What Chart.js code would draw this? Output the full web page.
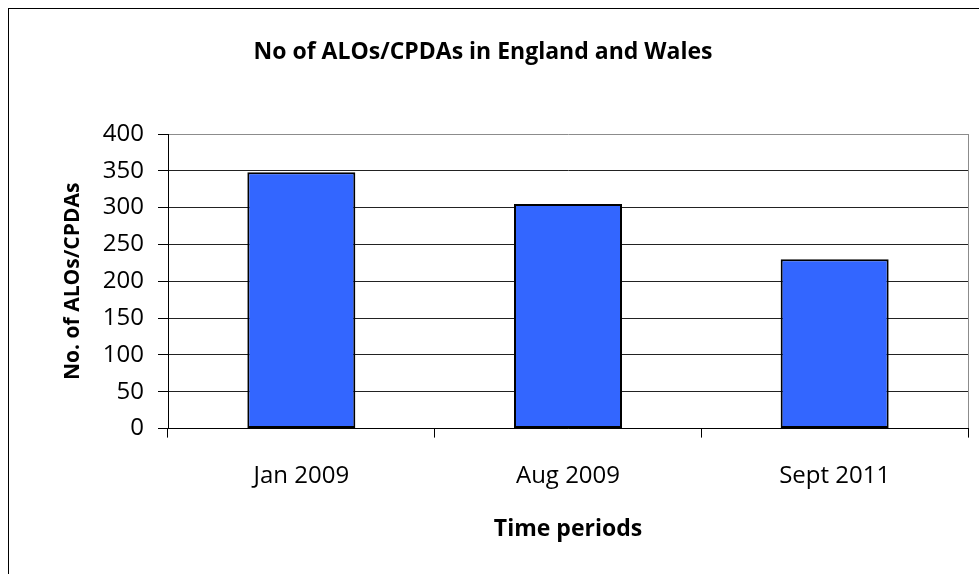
<!DOCTYPE html>
<html>
<head>
<meta charset="utf-8">
<script src="https://cdn.jsdelivr.net/npm/chart.js@4.4.1/dist/chart.umd.min.js"></script>
<style>
  body { margin: 0; background: #fff; }
  #wrap { position: absolute; left: 0; top: 0; width: 979px; height: 574px; }
  #frame { position: absolute; left: 8px; top: 8px; width: 2000px; height: 2000px; border: 1px solid #000; }
</style>
</head>
<body>
<div id="frame"></div>
<div id="wrap"><canvas id="myChart" width="979" height="574"></canvas></div>
<script>
// chart data
let periods = ['Jan 2009', 'Aug 2009', 'Sept 2011']
let counts = [348, 305, 230]
let yTicks = [0, 50, 100, 150, 200, 250, 300, 350, 400]
let chartTitle = 'No of ALOs/CPDAs in England and Wales'

let fontName = "'Open Sans', 'Liberation Sans', sans-serif"

// title sits over the whole picture, not over the plot area
let titlePlugin = {
    id: 'pageTitle',
    afterDraw: function(chart) {
        let c = chart.ctx
        c.save()
        c.font = 'bold 23px ' + fontName
        c.fillStyle = '#000'
        c.textAlign = 'center'
        c.textBaseline = 'middle'
        c.fillText(chartTitle, 483, 52)
        c.restore()
    }
}

var ctx = document.getElementById('myChart').getContext('2d');
var mychart = new Chart(ctx, {
    type: 'bar',
    data: {
        labels: periods,
        datasets: [{
            label: 'No. of ALOs/CPDAs',
            backgroundColor: '#3366FF',
            borderColor: '#000000',
            borderWidth: 2,
            borderSkipped: false,
            data: counts,
            barPercentage: 0.405,
            categoryPercentage: 1
        }]
    },
    plugins: [titlePlugin],
    options: {
        responsive: false,
        animation: false,
        layout: { padding: { left: 60, right: 11, top: 134, bottom: 0 } },
        plugins: {
            legend: { display: false },
            tooltip: { enabled: false },
            title: { display: false }
        },
        scales: {
            x: {
                grid: {
                    offset: true,
                    drawOnChartArea: true,
                    // only the right edge of the plot gets a line
                    color: function(c) { return c.type === 'scale' ? '#8c8c8c' : 'rgba(0,0,0,0)' },
                    tickColor: '#000',
                    tickLength: 9,
                    lineWidth: 1
                },
                border: { color: '#000', width: 1 },
                ticks: { color: '#000', font: { family: fontName, size: 24 }, padding: 24 },
                title: {
                    display: true,
                    text: 'Time periods',
                    color: '#000',
                    font: { family: fontName, size: 23, weight: 'bold' },
                    padding: { top: 1, bottom: 31 }
                }
            },
            y: {
                min: 0,
                max: 400,
                afterBuildTicks: function(axis) {
                    axis.ticks = yTicks.map(v => ({ value: v }))
                },
                afterFit: function(axis) { axis.width = 108 },
                grid: {
                    color: function(c) { return c.tick && c.tick.value === 400 ? '#8c8c8c' : '#222' },
                    tickColor: '#000',
                    tickLength: 10,
                    lineWidth: 1
                },
                border: { color: '#000', width: 1 },
                ticks: { color: '#000', font: { family: fontName, size: 24 }, padding: 14 },
                title: {
                    display: true,
                    text: 'No. of ALOs/CPDAs',
                    color: '#000',
                    font: { family: fontName, size: 21, weight: 'bold' },
                    padding: { top: 0, bottom: 0 }
                }
            }
        }
    }
});
</script>
</body>
</html>
